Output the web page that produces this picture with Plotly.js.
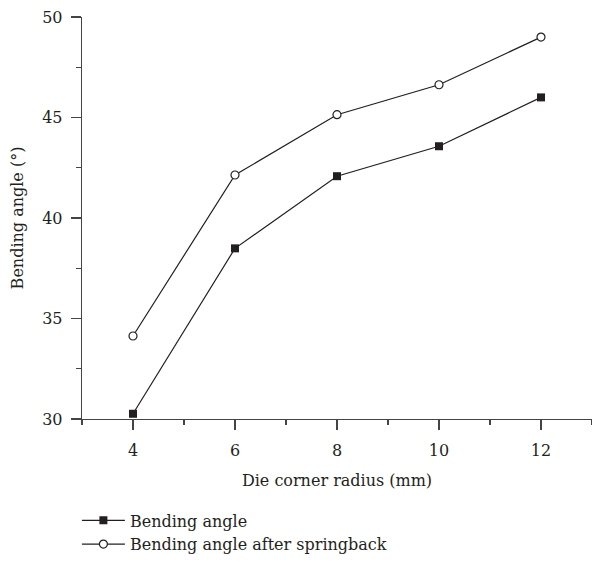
<!DOCTYPE html>
<html>
<head>
<meta charset="utf-8">
<script src="https://cdn.plot.ly/plotly-3.0.1.min.js"></script>
<style>html,body{margin:0;padding:0;background:#fff;}#chart{width:592px;height:568px;}</style>
</head>
<body>
<div id="chart"></div>
<script>
const radius = [4, 6, 8, 10, 12];
const bendingAngle = [30.26, 38.49, 42.08, 43.57, 46.0];
const afterSpringback = [34.13, 42.14, 45.14, 46.63, 49.0];
const xTicks = [4, 6, 8, 10, 12];
const yTicks = [30, 35, 40, 45, 50];

const ink = '#231f20';
const fontFam = 'DejaVu Serif, Liberation Serif, serif';
const fs = 16;

const traces = [
  {
    x: radius, y: bendingAngle, name: 'Bending angle',
    mode: 'lines+markers', type: 'scatter',
    line: {color: ink, width: 1.2},
    marker: {symbol: 'square', size: 8, color: ink, line: {width: 0}},
    cliponaxis: false
  },
  {
    x: radius, y: afterSpringback, name: 'Bending angle after springback',
    mode: 'lines+markers', type: 'scatter',
    line: {color: ink, width: 1.2},
    marker: {symbol: 'circle', size: 8, color: '#fff', line: {color: ink, width: 1.2}},
    cliponaxis: false
  }
];

const axisCommon = {
  showgrid: false, zeroline: false, showline: true,
  linecolor: '#444', linewidth: 1.3,
  ticks: 'outside', ticklen: 10, tickwidth: 1.3, tickcolor: '#444',
  tickfont: {family: fontFam, size: fs, color: ink}
};

const layout = {
  width: 592, height: 568,
  margin: {l: 82, r: 0, t: 17, b: 149, pad: 0},
  paper_bgcolor: '#fff', plot_bgcolor: '#fff',
  font: {family: fontFam, size: fs, color: ink},
  showlegend: true,
  legend: {
    x: -0.01, xanchor: 'left', y: -0.21, yanchor: 'top',
    itemwidth: 43,
    font: {family: fontFam, size: fs, color: ink},
    bgcolor: 'rgba(0,0,0,0)', tracegroupgap: 0
  },
  xaxis: Object.assign({}, axisCommon, {
    range: [3, 13], tickvals: xTicks, ticktext: xTicks.map(String),
    ticklabelstandoff: 6,
    minor: {ticks: 'outside', ticklen: 5, tickwidth: 1.3, tickcolor: '#444', tickvals: [3, 5, 7, 9, 11, 13]},
    title: {text: 'Die corner radius (mm)', font: {family: fontFam, size: fs, color: ink}, standoff: 16}
  }),
  yaxis: Object.assign({}, axisCommon, {
    range: [30, 50], tickvals: yTicks, ticktext: yTicks.map(String),
    ticklabelstandoff: 5,
    minor: {ticks: 'outside', ticklen: 5, tickwidth: 1.3, tickcolor: '#444', tickvals: [32.5, 37.5, 42.5, 47.5]},
    title: {text: 'Bending angle (°)', font: {family: fontFam, size: fs, color: ink}, standoff: 14}
  })
};

Plotly.newPlot('chart', traces, layout, {displayModeBar: false, staticPlot: true});
</script>
</body>
</html>
